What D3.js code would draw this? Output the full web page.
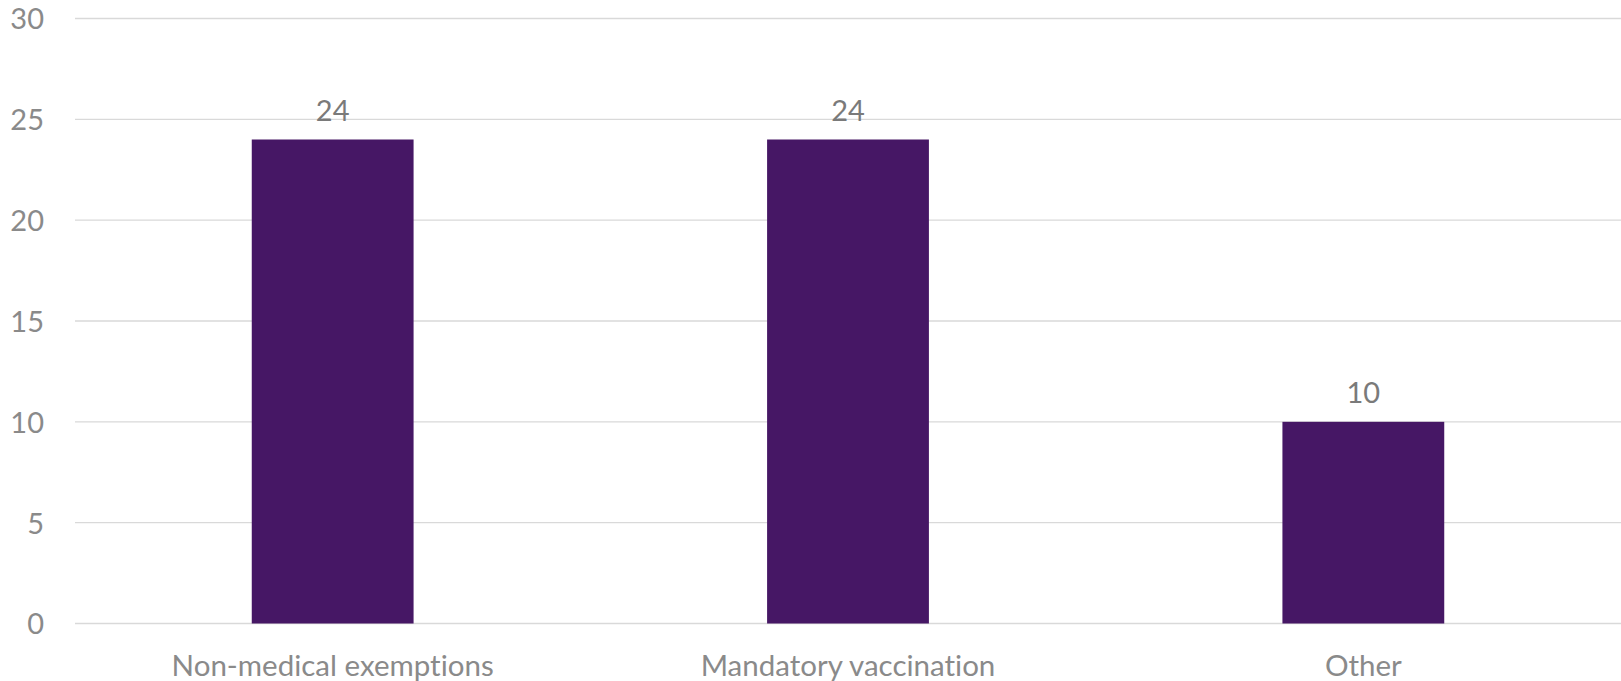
<!DOCTYPE html>
<html>
<head>
<meta charset="utf-8">
<script src="https://cdn.jsdelivr.net/npm/d3@7"></script>
<style>
  html, body { margin: 0; padding: 0; background: #fff; }
  svg { display: block; }
  text { font-family: Lato, "Open Sans", sans-serif; font-variant-ligatures: none; }
</style>
</head>
<body>
<div id="chart"></div>
<script>
const categories = ["Non-medical exemptions", "Mandatory vaccination", "Other"];
const values = [24, 24, 10];
const yTicks = [0, 5, 10, 15, 20, 25, 30];

const W = 1621, H = 681;
const mLeft = 75, mRight = 1621, mTop = 18.5, mBottom = 623.5;

const svg = d3.select("#chart").append("svg").attr("width", W).attr("height", H);

const x = d3.scaleBand().domain(categories).range([mLeft, mRight]).paddingInner(0.686).paddingOuter(0.343);
const y = d3.scaleLinear().domain([0, 30]).range([mBottom, mTop]);

// gridlines
svg.append("g").selectAll("line").data(yTicks).join("line")
  .attr("x1", mLeft).attr("x2", mRight)
  .attr("y1", d => y(d)).attr("y2", d => y(d))
  .attr("stroke", "#d9d9d9").attr("stroke-width", 1.3);

// y axis labels
const yAxis = d3.axisLeft(y).tickValues(yTicks).tickSize(0).tickPadding(0);
const gy = svg.append("g").attr("transform", "translate(44,0)").call(yAxis);
gy.select(".domain").remove();
gy.selectAll("text").attr("font-size", 29).attr("fill", "#8a8a8a")
  .attr("font-family", "Lato, 'Open Sans', sans-serif").attr("dy", "0.36em");

// bars
svg.append("g").selectAll("rect").data(values).join("rect")
  .attr("x", (d, i) => x(categories[i]))
  .attr("width", x.bandwidth())
  .attr("y", d => y(d))
  .attr("height", d => y(0) - y(d))
  .attr("fill", "#461765");

// value labels
svg.append("g").selectAll("text").data(values).join("text")
  .attr("x", (d, i) => x(categories[i]) + x.bandwidth() / 2)
  .attr("y", d => y(d) - 18.5)
  .attr("text-anchor", "middle")
  .attr("font-size", 29)
  .attr("fill", "#7a7a7a")
  .text(d => d);

// x axis labels
const xAxis = d3.axisBottom(x).tickSize(0).tickPadding(0);
const gx = svg.append("g").attr("transform", "translate(0,675.5)").call(xAxis);
gx.select(".domain").remove();
gx.selectAll("text").attr("font-size", 29.5).attr("fill", "#8a8a8a")
  .attr("font-family", "Lato, 'Open Sans', sans-serif").attr("dy", 0);
</script>
</body>
</html>
